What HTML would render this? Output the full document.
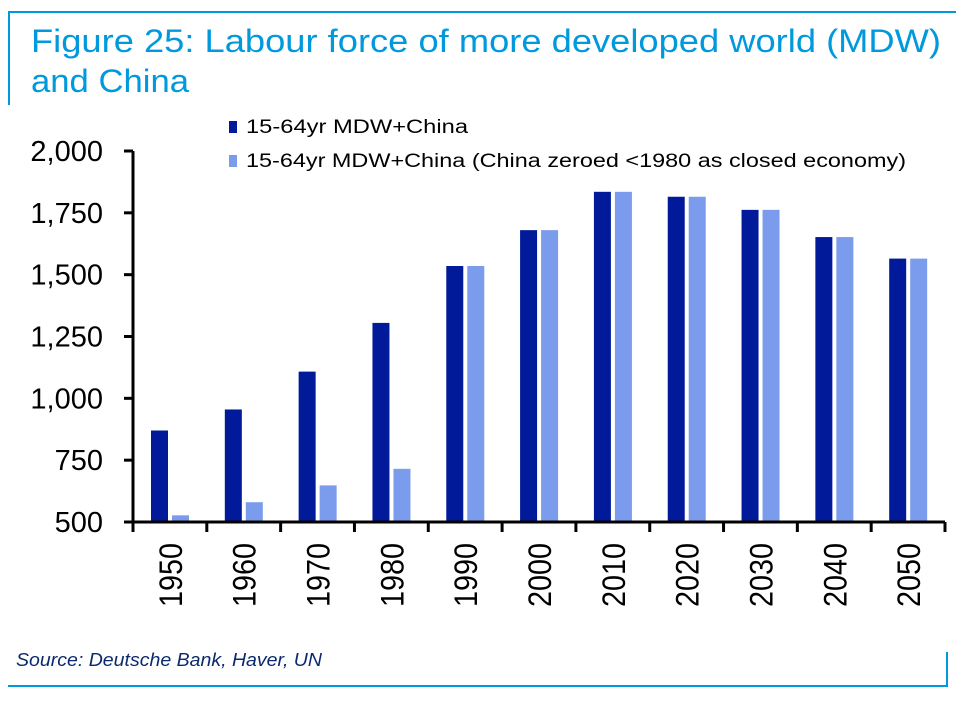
<!DOCTYPE html>
<html><head><meta charset="utf-8"><style>
body{margin:0;background:#fff;width:959px;height:697px;overflow:hidden;font-family:"Liberation Sans",Arial,sans-serif}
</style></head><body>
<svg width="959" height="697">
<line x1="8" y1="12" x2="956" y2="12" stroke="#0099dd" stroke-width="2"/>
<line x1="9" y1="12" x2="9" y2="105" stroke="#0099dd" stroke-width="2"/>
<text x="31" y="52" font-size="32" fill="#0099dd" textLength="910" lengthAdjust="spacingAndGlyphs">Figure 25: Labour force of more developed world (MDW)</text>
<text x="31" y="92" font-size="32" fill="#0099dd" textLength="158" lengthAdjust="spacingAndGlyphs">and China</text>
<rect x="229" y="121" width="8" height="12" fill="#001a99"/>
<text x="246" y="133" font-size="19" textLength="222" lengthAdjust="spacingAndGlyphs">15-64yr MDW+China</text>
<rect x="229" y="155" width="8" height="12" fill="#7b9cec"/>
<text x="246" y="167" font-size="19" textLength="660" lengthAdjust="spacingAndGlyphs">15-64yr MDW+China (China zeroed &lt;1980 as closed economy)</text>
<g id="plot"></g>
<line x1="8" y1="686" x2="948" y2="686" stroke="#0099dd" stroke-width="2"/>
<line x1="947" y1="652" x2="947" y2="686" stroke="#0099dd" stroke-width="2"/>
<text x="16" y="666" font-size="18" font-style="italic" fill="#0a2a6e" textLength="306" lengthAdjust="spacingAndGlyphs">Source: Deutsche Bank, Haver, UN</text>
</svg>
<script>
const categories=["1950","1960","1970","1980","1990","2000","2010","2020","2030","2040","2050"];
const fullSeries=[870,955,1108,1305,1535,1680,1835,1815,1762,1652,1565];
const zeroedSeries=[527,580,648,715,1535,1680,1835,1815,1762,1652,1565];
const yTicks=[500,750,1000,1250,1500,1750,2000];
const yTickLabels=["500","750","1,000","1,250","1,500","1,750","2,000"];
const NS="http://www.w3.org/2000/svg";
const g=document.getElementById('plot');
const x0=133,x1=945,yTop=151,yBot=522,vMin=500,vMax=2000;
const gw=(x1-x0)/categories.length;
function y(v){return yBot-(v-vMin)/(vMax-vMin)*(yBot-yTop);}
function xg(i){return x0+i*gw;}
function mk(t,a){const e=document.createElementNS(NS,t);for(const k in a)e.setAttribute(k,a[k]);g.appendChild(e);return e;}
categories.forEach((c,i)=>{
  let b=mk('rect',{x:xg(i)+18,y:y(fullSeries[i]),width:17,height:yBot-y(fullSeries[i]),fill:'#001a99'});
  
  
  let b2=mk('rect',{x:xg(i)+39,y:y(zeroedSeries[i]),width:17,height:yBot-y(zeroedSeries[i]),fill:'#7b9cec'});
  
  
  let t=mk('text',{transform:`translate(${xg(i)+gw/2+12},543) rotate(-90)`,'text-anchor':'end','font-size':'32',textLength:'64',lengthAdjust:'spacingAndGlyphs'});
  t.textContent=c;
  
  
});
for(let i=0;i<=categories.length;i++){
  let tk=mk('line',{x1:xg(i),y1:yBot,x2:xg(i),y2:yBot+10,stroke:'#000','stroke-width':3});
  
  
}
yTicks.forEach((v,i)=>{
  let tk=mk('line',{x1:x0-9,y1:y(v),x2:x0,y2:y(v),stroke:'#000','stroke-width':3});
  
  
  let t=mk('text',{x:x0-30,y:y(v)+10,'text-anchor':'end','font-size':'29'});
  t.textContent=yTickLabels[i];
  
  
});
let ax=mk('line',{x1:x0,y1:yTop,x2:x0,y2:yBot+10,stroke:'#000','stroke-width':3});


let axx=mk('line',{x1:x0-9,y1:yBot,x2:x1,y2:yBot,stroke:'#000','stroke-width':3});


</script>
</body></html>
